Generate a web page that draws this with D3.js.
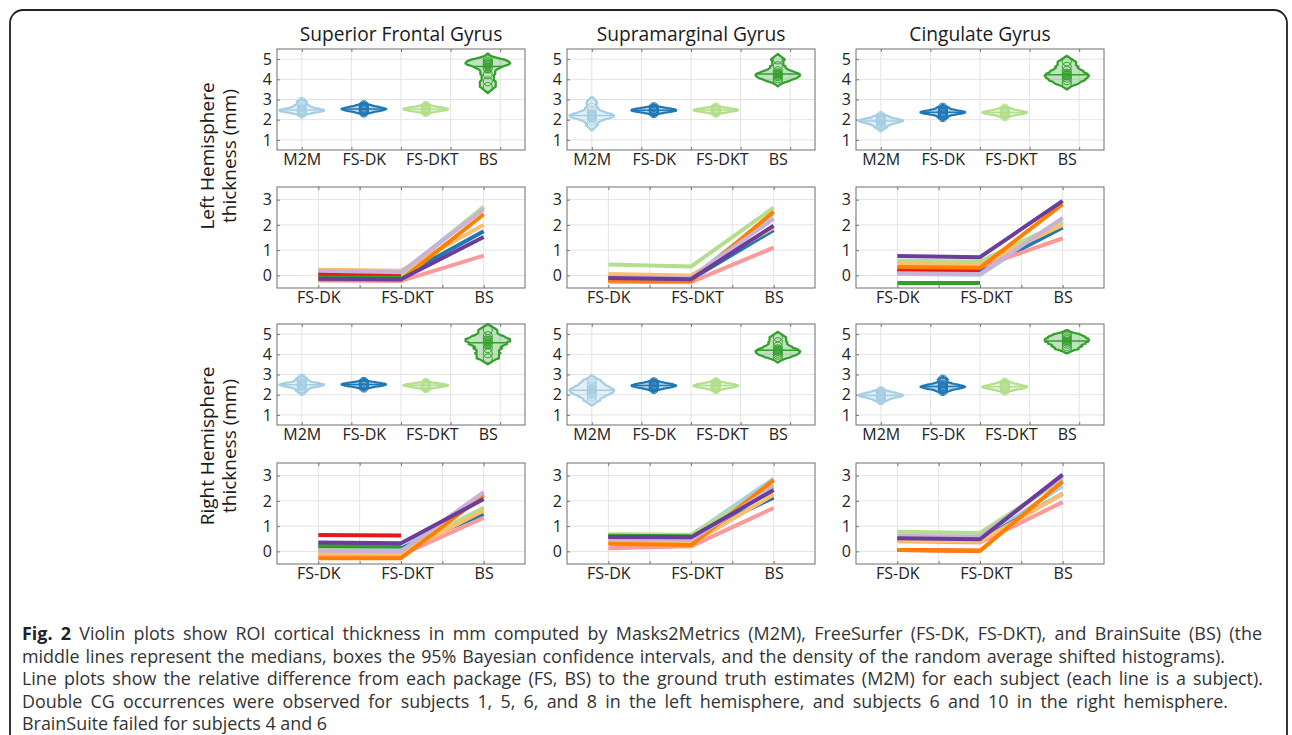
<!DOCTYPE html>
<html><head><meta charset="utf-8">
<script src="https://cdn.jsdelivr.net/npm/d3@7"></script>
<style>body{margin:0;background:#fff;} text{font-family:"Open Sans","Noto Sans",sans-serif;}</style>
</head><body><svg id="c" width="1292" height="735"></svg>
<script>
// ---------- data ----------
const regions = ["Superior Frontal Gyrus", "Supramarginal Gyrus", "Cingulate Gyrus"];
const hemiLabels = ["Left Hemisphere", "Right Hemisphere"];
const methods = ["M2M", "FS-DK", "FS-DKT", "BS"];
const methodPos = [1, 2.25, 3.5, 4.75];
const methodColors = ["#a6cee3", "#1f78b4", "#b2df8a", "#33a02c"];
const diffMethods = ["FS-DK", "FS-DKT", "BS"];
const subjectColors = ["#a6cee3", "#1f78b4", "#b2df8a", "#33a02c", "#fb9a99", "#e31a1c", "#fdbf6f", "#ff7f00", "#cab2d6", "#6a3d9a"];
const thickTicks = [1, 2, 3, 4, 5];
const diffTicks = [0, 1, 2, 3];

// cortical thickness (mm) per subject: [M2M, FS-DK, FS-DKT, BS]
const lhSfgThick = [
  [2.30, 2.38, 2.42, 2.45, 2.47, 2.50, 2.55, 2.62, 2.72, 2.88],
  [2.35, 2.42, 2.46, 2.50, 2.52, 2.54, 2.56, 2.60, 2.65, 2.72],
  [2.38, 2.44, 2.47, 2.50, 2.52, 2.53, 2.55, 2.58, 2.62, 2.68],
  [3.62, 3.90, 4.25, 4.55, 4.72, 4.80, 4.88, 4.98]
];
const lhSmgThick = [
  [1.72, 1.95, 2.08, 2.15, 2.20, 2.22, 2.28, 2.40, 2.60, 2.88],
  [2.32, 2.38, 2.42, 2.44, 2.46, 2.48, 2.50, 2.52, 2.56, 2.62],
  [2.34, 2.40, 2.43, 2.45, 2.47, 2.48, 2.50, 2.52, 2.55, 2.60],
  [3.92, 4.05, 4.15, 4.22, 4.30, 4.40, 4.65, 4.98]
];
const lhCgThick = [
  [1.62, 1.75, 1.82, 1.88, 1.92, 1.95, 1.98, 2.02, 2.08, 2.18],
  [2.12, 2.25, 2.30, 2.33, 2.36, 2.38, 2.40, 2.44, 2.50, 2.60],
  [2.18, 2.26, 2.30, 2.33, 2.35, 2.37, 2.39, 2.42, 2.48, 2.55],
  [3.78, 3.95, 4.08, 4.18, 4.28, 4.42, 4.62, 4.88]
];
const rhSfgThick = [
  [2.18, 2.32, 2.40, 2.45, 2.48, 2.50, 2.53, 2.58, 2.66, 2.80],
  [2.35, 2.42, 2.45, 2.48, 2.50, 2.51, 2.53, 2.55, 2.58, 2.64],
  [2.32, 2.38, 2.42, 2.44, 2.46, 2.47, 2.48, 2.50, 2.53, 2.58],
  [3.80, 4.05, 4.30, 4.50, 4.65, 4.75, 4.90, 5.20]
];
const rhSmgThick = [
  [1.70, 1.90, 2.02, 2.10, 2.18, 2.25, 2.32, 2.42, 2.55, 2.72],
  [2.28, 2.34, 2.38, 2.42, 2.44, 2.46, 2.48, 2.52, 2.56, 2.62],
  [2.28, 2.34, 2.38, 2.41, 2.44, 2.46, 2.48, 2.51, 2.55, 2.62],
  [3.85, 3.98, 4.08, 4.16, 4.25, 4.38, 4.60, 4.85]
];
const rhCgThick = [
  [1.72, 1.82, 1.88, 1.92, 1.95, 1.98, 2.01, 2.05, 2.10, 2.18],
  [2.18, 2.28, 2.33, 2.36, 2.39, 2.42, 2.45, 2.50, 2.58, 2.75],
  [2.20, 2.28, 2.32, 2.35, 2.38, 2.40, 2.43, 2.47, 2.52, 2.60],
  [4.25, 4.40, 4.52, 4.62, 4.70, 4.78, 4.88, 5.00]
];

// relative difference to M2M per subject 1..10: [FS-DK, FS-DKT, BS] (BS failed for subjects 4 and 6)
const lhSfgDiff = [[0.15,0.10,2.70],[0.00,-0.05,1.75],[0.05,0.00,2.72],[-0.05,-0.08,null],[-0.20,-0.22,0.78],[0.07,0.05,null],[0.22,0.18,2.00],[-0.15,-0.18,2.42],[0.18,0.12,2.62],[-0.13,-0.15,1.52]];
const lhSmgDiff = [[-0.05,-0.10,2.45],[-0.10,-0.15,1.80],[0.43,0.35,2.68],[-0.12,-0.17,null],[-0.25,-0.27,1.10],[-0.18,-0.22,null],[0.05,0.00,1.90],[-0.20,-0.22,2.52],[-0.05,-0.10,2.25],[-0.10,-0.15,1.97]];
const lhCgDiff = [[0.05,0.02,2.15],[0.15,0.20,1.90],[0.58,0.55,2.10],[-0.30,-0.30,null],[0.35,0.33,1.47],[0.22,0.20,null],[0.45,0.42,2.00],[0.33,0.30,2.82],[0.08,0.05,2.28],[0.77,0.72,2.95]];
const rhSfgDiff = [[0.13,0.10,2.27],[0.15,0.12,1.47],[0.05,0.03,1.73],[0.25,0.22,null],[-0.12,-0.15,1.33],[0.65,0.63,null],[-0.05,-0.08,1.62],[-0.27,-0.27,2.22],[0.02,0.00,2.35],[0.35,0.32,2.07]];
const rhSmgDiff = [[0.65,0.63,2.88],[0.60,0.58,2.13],[0.68,0.66,2.65],[0.62,0.60,null],[0.12,0.20,1.72],[0.55,0.55,null],[0.35,0.30,2.25],[0.30,0.25,2.82],[0.47,0.45,2.55],[0.57,0.56,2.43]];
const rhCgDiff = [[0.45,0.42,2.60],[0.50,0.45,2.28],[0.78,0.73,2.85],[0.50,0.48,null],[0.40,0.35,1.95],[0.05,0.02,null],[0.42,0.40,2.28],[0.05,0.02,2.77],[0.62,0.58,2.95],[0.52,0.48,3.04]];

const captionLines = [
  ["Fig. 2", " Violin plots show ROI cortical thickness in mm computed by Masks2Metrics (M2M), FreeSurfer (FS-DK, FS-DKT), and BrainSuite (BS) (the"],
  ["", "middle lines represent the medians, boxes the 95% Bayesian confidence intervals, and the density of the random average shifted histograms)."],
  ["", "Line plots show the relative difference from each package (FS, BS) to the ground truth estimates (M2M) for each subject (each line is a subject)."],
  ["", "Double CG occurrences were observed for subjects 1, 5, 6, and 8 in the left hemisphere, and subjects 6 and 10 in the right hemisphere."],
  ["", "BrainSuite failed for subjects 4 and 6"]
];

const thickData = [[lhSfgThick, lhSmgThick, lhCgThick], [rhSfgThick, rhSmgThick, rhCgThick]];
const diffData = [[lhSfgDiff, lhSmgDiff, lhCgDiff], [rhSfgDiff, rhSmgDiff, rhCgDiff]];

// ---------- layout ----------
const svg = d3.select("#c");
const colX = [277, 567, 856];
const rowY = [49, 187, 324, 463];
const W = 248, H = 101;
const tickFont = 16;

svg.append("rect").attr("x", 10).attr("y", 10).attr("width", 1277).attr("height", 780)
  .attr("rx", 13).attr("fill", "none").attr("stroke", "#222").attr("stroke-width", 1.8);

function frame(g, x, y, xgrid, ygrid) {
  g.append("g").selectAll("line").data(xgrid).join("line")
    .attr("x1", d => x(d)).attr("x2", d => x(d)).attr("y1", 0).attr("y2", H)
    .attr("stroke", "#e3e3e3").attr("stroke-width", 1);
  g.append("g").selectAll("line").data(ygrid).join("line")
    .attr("x1", 0).attr("x2", W).attr("y1", d => y(d)).attr("y2", d => y(d))
    .attr("stroke", "#e3e3e3").attr("stroke-width", 1);
  g.append("g").call(d3.axisBottom(x).tickValues(xgrid).tickSize(-3).tickFormat(""))
    .attr("transform", `translate(0,${H})`).call(a => a.select(".domain").remove())
    .selectAll("line").attr("stroke", "#777");
  g.append("g").call(d3.axisTop(x).tickValues(xgrid).tickSize(-3).tickFormat(""))
    .call(a => a.select(".domain").remove()).selectAll("line").attr("stroke", "#777");
  const ya = g.append("g").call(d3.axisLeft(y).tickValues(ygrid).tickSize(-3).tickPadding(5).tickFormat(d3.format("d")));
  ya.select(".domain").remove();
  ya.selectAll("line").attr("stroke", "#777");
  ya.selectAll("text").attr("font-size", tickFont).attr("fill", "#222").attr("font-family", "Open Sans");
}

function boxOutline(g) {
  g.append("rect").attr("x", 0).attr("y", 0).attr("width", W).attr("height", H)
    .attr("fill", "none").attr("stroke", "#6e6e6e").attr("stroke-width", 1);
}

function styleXLabels(xa) {
  xa.select(".domain").remove();
  xa.selectAll("text").attr("font-size", tickFont).attr("fill", "#222").attr("font-family", "Open Sans");
  xa.selectAll(".tick").filter((d, i, n) => d3.select(n[i]).select("text").text() === "FS-DKT")
    .select("text").attr("dx", 6);
}

function violinPanel(g, groups) {
  const x = d3.scaleLinear().domain([0.5, 5.5]).range([0, W]);
  const y = d3.scaleLinear().domain([0.5, 5.5]).range([H, 0]);
  frame(g, x, y, [1, 2, 3, 4, 5], thickTicks);
  const halfW = 0.45;
  groups.forEach((vals, i) => {
    const c = methodColors[i], cx = methodPos[i];
    const sd = d3.deviation(vals);
    const h = Math.max(0.15, Math.min(0.3, 0.8 * sd));
    const lo = d3.min(vals) - h, hi = d3.max(vals) + h;
    const ys = d3.range(0, 81).map(k => lo + (hi - lo) * k / 80);
    const kern = t => d3.sum(vals, v => Math.max(0, 1 - Math.abs(t - v) / h));
    const dens = ys.map(kern);
    const m = d3.max(dens);
    const pts = ys.map((t, k) => [t, dens[k] / m * halfW]);
    const area = d3.area().y(d => y(d[0])).x0(d => x(cx - d[1])).x1(d => x(cx + d[1]));
    g.append("path").attr("d", area(pts)).attr("fill", c).attr("fill-opacity", 0.3)
      .attr("stroke", c).attr("stroke-width", 2.2).attr("stroke-linejoin", "round");
    const med = d3.median(vals);
    const ci = 1.96 * sd / Math.sqrt(vals.length);
    g.append("rect").attr("x", x(cx - 0.07)).attr("width", x(cx + 0.07) - x(cx - 0.07))
      .attr("y", y(med + ci)).attr("height", y(med - ci) - y(med + ci))
      .attr("fill", c).attr("fill-opacity", 0.7);
    const wm = kern(med) / m * halfW;
    g.append("line").attr("x1", x(cx - wm)).attr("x2", x(cx + wm)).attr("y1", y(med)).attr("y2", y(med))
      .attr("stroke", c).attr("stroke-width", 1.5);
    g.append("g").selectAll("circle").data(vals).join("circle")
      .attr("cx", x(cx)).attr("cy", d => y(d)).attr("r", 4.5)
      .attr("fill", "none").attr("stroke", c).attr("stroke-width", 1);
  });
  const xa = g.append("g").attr("transform", `translate(0,${H})`)
    .call(d3.axisBottom(x).tickValues(methodPos).tickSize(0).tickPadding(4).tickFormat((d, i) => methods[i]));
  styleXLabels(xa);
  boxOutline(g);
}

function linePanel(g, subj) {
  const x = d3.scaleLinear().domain([0.5, 3.5]).range([0, W]);
  const y = d3.scaleLinear().domain([-0.5, 3.5]).range([H, 0]);
  frame(g, x, y, [1, 1.5, 2, 2.5, 3], diffTicks);
  const line = d3.line().defined(d => d != null).x((d, i) => x(i + 1)).y(d => y(d));
  g.append("g").selectAll("path").data(subj).join("path")
    .attr("d", d => line(d)).attr("fill", "none")
    .attr("stroke", (d, i) => subjectColors[i]).attr("stroke-width", 4).attr("stroke-linejoin", "round");
  const xa = g.append("g").attr("transform", `translate(0,${H})`)
    .call(d3.axisBottom(x).tickValues([1, 2, 3]).tickSize(0).tickPadding(4).tickFormat((d, i) => diffMethods[i]));
  styleXLabels(xa);
  boxOutline(g);
}

for (let hm = 0; hm < 2; hm++) {
  for (let r = 0; r < 3; r++) {
    violinPanel(svg.append("g").attr("transform", `translate(${colX[r]},${rowY[hm * 2]})`), thickData[hm][r]);
    linePanel(svg.append("g").attr("transform", `translate(${colX[r]},${rowY[hm * 2 + 1]})`), diffData[hm][r]);
  }
}

// titles
svg.append("g").selectAll("text").data(regions).join("text")
  .attr("x", (d, i) => colX[i] + W / 2).attr("y", 41).attr("text-anchor", "middle")
  .attr("font-size", 19.2).attr("fill", "#1a1a1a").text(d => d);

// hemisphere labels
const hemiY = [156, 446];
hemiLabels.forEach((t, i) => {
  svg.append("text").attr("transform", `translate(214,${hemiY[i]}) rotate(-90)`)
    .attr("text-anchor", "middle").attr("font-size", 19).attr("fill", "#1a1a1a").text(t);
  svg.append("text").attr("transform", `translate(236,${hemiY[i]}) rotate(-90)`)
    .attr("text-anchor", "middle").attr("font-size", 19).attr("fill", "#1a1a1a").text("thickness (mm)");
});

// caption: font size fitted to the first line, other full lines nudged with word spacing
const capLen = [1240, 1203, 1241, 1206, null];
const capBase = 16;
const capTexts = captionLines.map((ln, i) => {
  const t = svg.append("text").attr("x", 22).attr("y", 640 + i * 22.5)
    .attr("font-size", capBase).attr("fill", "#333");
  if (ln[0]) t.append("tspan").attr("font-weight", "bold").attr("fill", "#222").text(ln[0]);
  t.append("tspan").text(ln[1]);
  return t;
});
const capScale = Math.min(1.12, capLen[0] / capTexts[0].node().getComputedTextLength());
capTexts.forEach((t, i) => {
  t.attr("font-size", capBase * capScale);
  if (capLen[i]) {
    const w = t.node().getComputedTextLength();
    const spaces = (captionLines[i][0] + captionLines[i][1]).split(" ").length - 1;
    t.attr("word-spacing", ((capLen[i] - w) / spaces).toFixed(3));
  }
});
</script></body></html>
